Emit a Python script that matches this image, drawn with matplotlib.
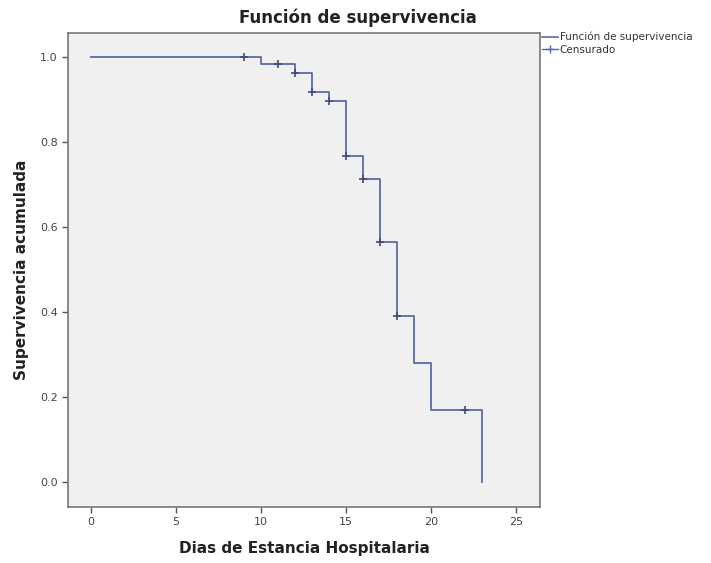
import matplotlib
matplotlib.use("Agg")
import matplotlib.pyplot as plt
from matplotlib.lines import Line2D

# Kaplan-Meier step data
event_times = [0, 10, 12, 13, 14, 15, 16, 17, 18, 19, 20, 23]
survival = [1.0, 0.983, 0.963, 0.918, 0.896, 0.767, 0.713, 0.565, 0.39, 0.28, 0.168, 0.0]
censor_times = [9, 11, 12, 13, 14, 15, 16, 17, 18, 22]
censor_surv = [1.0, 0.983, 0.963, 0.918, 0.896, 0.767, 0.713, 0.565, 0.39, 0.168]
x_ticks = [0, 5, 10, 15, 20, 25]
y_ticks = [0.0, 0.2, 0.4, 0.6, 0.8, 1.0]

line_color = "#5b6aa6"
fig = plt.figure(figsize=(7.11, 5.63), dpi=100)
ax = fig.add_axes([68/711, 56/563, 472/711, 474/563])
ax.set_facecolor("#f0f0f0")

ax.step(event_times, survival, where="post", color=line_color, lw=1.3)
ax.plot(censor_times, censor_surv, linestyle="none", marker="+", color="#3f4a80",
        markersize=5.5, mew=1.2)

ax.set_xlim(-1.35, 26.4)
ax.set_ylim(-0.059, 1.056)
ax.set_xticks(x_ticks)
ax.set_xticklabels([str(t) for t in x_ticks])
ax.set_yticks(y_ticks)
ax.set_yticklabels([f"{t:.1f}" for t in y_ticks])
ax.tick_params(colors="#555555", labelsize=8, length=4, width=1, labelcolor="#444444")
for s in ax.spines.values():
    s.set_color("#777777")
    s.set_linewidth(1.2)

ax.set_xlabel("Dias de Estancia Hospitalaria", fontsize=11, fontweight="bold", labelpad=10,
              color="#222222")
ax.set_ylabel("Supervivencia acumulada", fontsize=11, fontweight="bold", labelpad=8,
              color="#222222")
fig.text(358/711, 1 - 18/563, "Función de supervivencia", ha="center", va="center",
         fontsize=12, fontweight="bold", color="#222222")

handles = [Line2D([], [], color=line_color, lw=1.2),
           Line2D([], [], color=line_color, lw=1.0, marker="+", markersize=6)]
leg = fig.legend(handles, ["Función de supervivencia", "Censurado"],
                 loc="upper left", bbox_to_anchor=(542/711, 1 - 32/563),
                 frameon=False, fontsize=7.5, handlelength=1.5, handletextpad=0.2,
                 labelspacing=0.2, borderaxespad=0, borderpad=0, labelcolor="#333333")

fig.savefig("out.png", dpi=100)
